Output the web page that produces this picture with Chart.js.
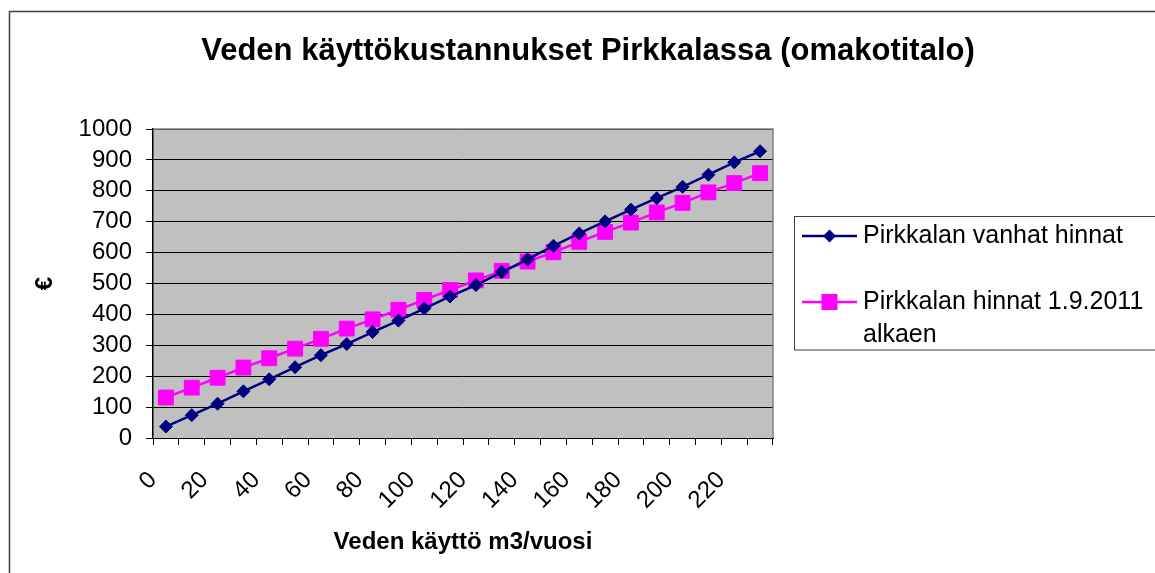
<!DOCTYPE html>
<html>
<head>
<meta charset="utf-8">
<script src="https://cdn.jsdelivr.net/npm/chart.js@4"></script>
<style>
  html, body { margin: 0; padding: 0; background: #fff; }
  #wrap { width: 1155px; height: 573px; position: relative; }
</style>
</head>
<body>
<div id="wrap"><canvas id="chart" width="1155" height="573"></canvas></div>
<script>
const FONT = "'Liberation Sans', Arial, sans-serif";

// water use, m3 per year
const categories = [0, 10, 20, 30, 40, 50, 60, 70, 80, 90, 100, 110,
                    120, 130, 140, 150, 160, 170, 180, 190, 200, 210, 220, 230];
// euros per year
const oldPrices = [37, 74, 111, 151, 190, 229, 268, 304, 343, 380, 419, 458,
                   495, 537, 578, 622, 662, 701, 739, 776, 813, 852, 892, 928];
const newPrices = [131, 163, 195, 228, 258, 289, 321, 354, 384, 415, 447, 479,
                   510, 541, 571, 601, 635, 667, 697, 730, 761, 795, 825, 857];
const yTicks = [0, 100, 200, 300, 400, 500, 600, 700, 800, 900, 1000];

const titleText = 'Veden käyttökustannukset Pirkkalassa (omakotitalo)';
const legendItems = [
    { lines: ['Pirkkalan vanhat hinnat'], color: '#000080', marker: 'diamond' },
    { lines: ['Pirkkalan hinnat 1.9.2011', 'alkaen'], color: '#ff00ff', marker: 'square' }
];

function drawMarker(ctx, type, x, y, color) {
    ctx.fillStyle = color;
    ctx.beginPath();
    if (type === 'diamond') {
        ctx.moveTo(x - 6.5, y); ctx.lineTo(x, y - 6.5); ctx.lineTo(x + 6.5, y); ctx.lineTo(x, y + 6.5);
        ctx.closePath();
    } else {
        ctx.rect(x - 8, y - 8, 16, 16);
    }
    ctx.fill();
}

const decor = {
    id: 'decor',
    beforeDraw(chart) {
        const { ctx, chartArea: a } = chart;
        ctx.save();
        ctx.fillStyle = '#fff';
        ctx.fillRect(0, 0, chart.width, chart.height);
        ctx.fillStyle = '#c0c0c0';
        ctx.fillRect(a.left, a.top, a.right - a.left, a.bottom - a.top);
        ctx.restore();
    },
    beforeDatasetsDraw(chart) {
        const { ctx, chartArea: a } = chart;
        ctx.save();
        ctx.strokeStyle = '#808080';
        ctx.lineWidth = 1.5;
        ctx.beginPath();
        ctx.moveTo(a.left, a.top);
        ctx.lineTo(a.right, a.top);
        ctx.lineTo(a.right, a.bottom);
        ctx.stroke();
        ctx.restore();
    },
    afterDraw(chart) {
        const ctx = chart.ctx;
        ctx.save();
        // outer frame
        ctx.strokeStyle = '#404040';
        ctx.lineWidth = 1.5;
        ctx.strokeRect(9.5, 11.5, 1200, 600);

        // title
        ctx.fillStyle = '#000';
        ctx.font = 'bold 31px ' + FONT;
        ctx.textAlign = 'center';
        ctx.textBaseline = 'middle';
        ctx.fillText(titleText, 588, 51);

        // legend box
        ctx.strokeStyle = '#404040';
        ctx.lineWidth = 1;
        ctx.strokeRect(794.5, 216.5, 400, 133.5);
        ctx.font = '25px ' + FONT;
        ctx.textAlign = 'left';
        const rows = [236, 302];
        legendItems.forEach((item, i) => {
            const y = rows[i];
            ctx.strokeStyle = item.color;
            ctx.lineWidth = 2.5;
            ctx.beginPath();
            ctx.moveTo(802, y);
            ctx.lineTo(857, y);
            ctx.stroke();
            drawMarker(ctx, item.marker, 829.5, y, item.color);
            ctx.fillStyle = '#000';
            item.lines.forEach((t, j) => ctx.fillText(t, 863, y + j * 33));
        });
        ctx.restore();
    }
};

new Chart(document.getElementById('chart'), {
    type: 'line',
    data: {
        labels: categories,
        datasets: [
            {
                label: legendItems[0].lines[0],
                data: oldPrices,
                borderColor: '#000080',
                backgroundColor: '#000080',
                borderWidth: 2.5,
                pointStyle: 'rectRot',
                pointRadius: 6.5,
                pointBorderWidth: 1,
                tension: 0
            },
            {
                label: legendItems[1].lines.join(' '),
                data: newPrices,
                borderColor: '#ff00ff',
                backgroundColor: '#ff00ff',
                borderWidth: 2.5,
                pointStyle: 'rect',
                pointRadius: 10.5,
                pointBorderWidth: 1,
                tension: 0
            }
        ]
    },
    options: {
        responsive: false,
        animation: false,
        layout: { padding: { left: 0, right: 382, top: 129, bottom: 0 } },
        plugins: {
            legend: { display: false },
            title: { display: false },
            tooltip: { enabled: false }
        },
        scales: {
            x: {
                type: 'category',
                offset: true,
                afterFit: s => { s.height = 135; },
                grid: { offset: true, drawOnChartArea: false, drawTicks: true, tickLength: 7, color: '#000' },
                border: { color: '#000', width: 1 },
                ticks: {
                    autoSkip: false,
                    minRotation: 45,
                    maxRotation: 45,
                    padding: 21,
                    labelOffset: -13,
                    color: '#000',
                    font: { family: FONT, size: 24 },
                    callback: (v, i) => (i % 2 === 0 ? String(categories[i]) : '')
                },
                title: {
                    display: true,
                    text: 'Veden käyttö m3/vuosi',
                    color: '#000',
                    font: { family: FONT, size: 24, weight: 'bold' },
                    padding: { top: 0, bottom: 16 }
                }
            },
            y: {
                min: 0,
                max: 1000,
                afterFit: s => { s.width = 153; },
                afterBuildTicks: s => { s.ticks = yTicks.map(v => ({ value: v })); },
                grid: { color: '#000', lineWidth: 1, tickLength: 7 },
                border: { color: '#000', width: 1.5 },
                ticks: {
                    autoSkip: false,
                    padding: 14,
                    color: '#000',
                    font: { family: FONT, size: 24 },
                    callback: v => String(v)
                },
                title: {
                    display: true,
                    text: '€',
                    color: '#000',
                    font: { family: FONT, size: 24, weight: 'bold' },
                    padding: { top: 31, bottom: 0 }
                }
            }
        }
    },
    plugins: [decor]
});
</script>
</body>
</html>
